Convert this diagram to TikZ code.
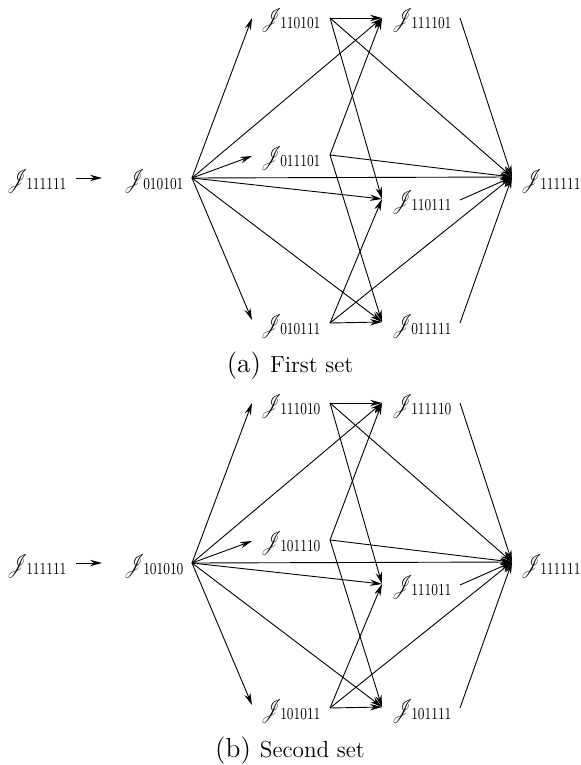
\documentclass[tikz,border=0pt]{standalone}
\usepackage{mathrsfs}
\usepackage{graphicx}
\usetikzlibrary{arrows.meta}

% ideal label: script J with a six-digit index
\newcommand\jlab[1]{\scalebox{0.7}[1]{\fontsize{11.5pt}{11pt}\selectfont$\mathscr{J}$}%
  \kern-0.8pt\raisebox{-1.5pt}{\scalebox{0.75}[1]{\fontsize{8.4pt}{9pt}\selectfont #1}}}

\tikzset{
  lbl/.style={anchor=base west, inner sep=0pt, outer sep=0pt},
  edge/.style={line width=0.45pt, -{Stealth[length=6pt,width=3.2pt,inset=2pt]}},
  capnum/.style={anchor=base, inner sep=0pt, font=\fontsize{13.7pt}{16pt}\selectfont},
}

% One lattice of ideals: #1 = bottom element, #2..#4 = middle column,
% #5..#7 = right column, #8 = caption
\newcommand\latticeset[8]{%
  % labels
  \node[lbl] (L)  at (7,186)   {\jlab{111111}};
  \node[lbl] (A)  at (124,186) {\jlab{#1}};
  \node[lbl] (B1) at (261,26)  {\jlab{#2}};
  \node[lbl] (B2) at (261,163) {\jlab{#3}};
  \node[lbl] (B3) at (261,331) {\jlab{#4}};
  \node[lbl] (C1) at (392,26)  {\jlab{#5}};
  \node[lbl] (C2) at (392,207) {\jlab{#6}};
  \node[lbl] (C3) at (392,331) {\jlab{#7}};
  \node[lbl] (D)  at (521,186) {\jlab{111111}};
  % connector ends
  \coordinate (L-out)  at (76,178);
  \coordinate (A-in)   at (102,178);
  \coordinate (A-out)  at (192,178);
  \coordinate (B1-in)  at (252,18);
  \coordinate (B1-out) at (330,18);
  \coordinate (B2-in)  at (252,156);
  \coordinate (B2-out) at (330,155);
  \coordinate (B3-in)  at (252,320);
  \coordinate (B3-out) at (330,323);
  \coordinate (C1-in)  at (382,18);
  \coordinate (C1-out) at (460,18);
  \coordinate (C2-in)  at (382,199);
  \coordinate (C2-out) at (460,200);
  \coordinate (C3-in)  at (382,322);
  \coordinate (C3-out) at (460,323);
  \coordinate (D-in)   at (512,177);
  % inclusions
  \draw[edge] (L-out) -- (A-in);
  \foreach \t in {B1,B2,B3,C1,C2,C3,D} \draw[edge] (A-out) -- (\t-in);
  \foreach \t in {C1,C2,D} \draw[edge] (B1-out) -- (\t-in);
  \foreach \t in {C1,C3,D} \draw[edge] (B2-out) -- (\t-in);
  \foreach \t in {C2,C3,D} \draw[edge] (B3-out) -- (\t-in);
  \foreach \s in {C1,C2,C3} \draw[edge] (\s-out) -- (D-in);
  % caption
  \node[capnum] (cap) at (290,372) {#8};
}

\begin{document}
\begin{tikzpicture}[x=0.5pt,y=-0.5pt]
  \useasboundingbox (0,0) rectangle (580,765);
  \begin{scope}
    \latticeset{010101}{110101}{011101}{010111}{111101}{110111}{011111}%
      {(a) {\fontsize{11.6pt}{14pt}\selectfont First set}}
  \end{scope}
  \begin{scope}[yshift=-192.5pt]
    \latticeset{101010}{111010}{101110}{101011}{111110}{111011}{101111}%
      {(b) {\fontsize{11.6pt}{14pt}\selectfont Second set}}
  \end{scope}
\end{tikzpicture}
\end{document}
